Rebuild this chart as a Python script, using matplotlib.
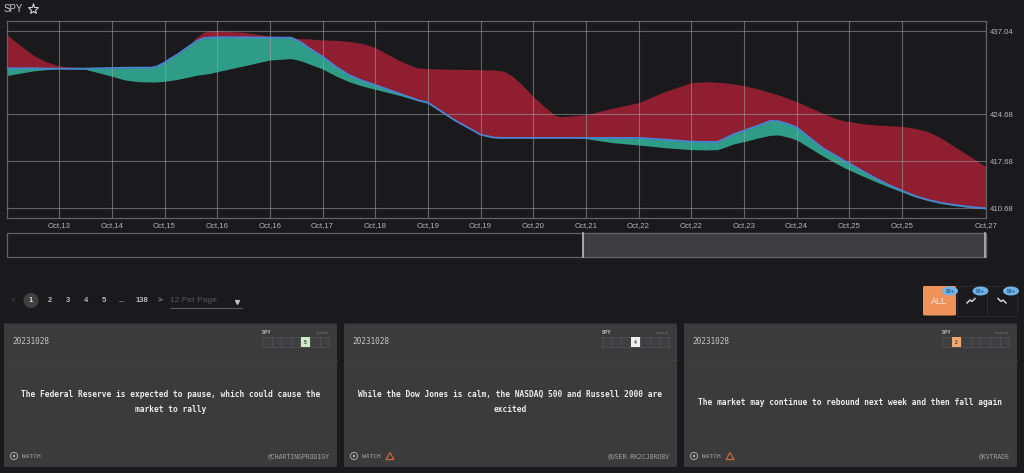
import matplotlib
matplotlib.use('Agg')
import matplotlib.pyplot as plt
from matplotlib.patches import Rectangle, FancyBboxPatch, Circle, Ellipse, Polygon

# tick units along the time axis
x_vals = [0, 0.25, 0.5, 0.75, 1, 1.5, 2, 2.25, 2.5, 2.75, 2.85, 3, 3.1, 3.25, 3.5, 3.6, 3.75, 3.875, 4, 4.5,
          5, 5.4, 5.5, 5.6, 5.75, 6, 6.25, 6.5, 6.75, 7, 7.5, 7.8, 8, 8.5, 9, 9.25, 9.45, 9.6, 9.79, 10,
          10.25, 10.4, 10.5, 10.67, 11, 11.5, 12, 12.5, 13, 13.3, 13.5, 13.65, 13.8, 14, 14.3, 14.5, 14.66, 14.85,
          15, 15.5, 15.7, 15.9, 16, 16.25, 16.5, 16.75, 17, 17.25, 17.5, 17.75, 18, 18.3, 18.59]
upper = [436.59, 435.00, 433.51, 432.52, 431.88, 431.48, 431.58, 431.61, 431.63, 431.63, 431.78, 432.47, 433.06, 433.76,
         435.15, 436.10, 436.94, 437.11, 437.14, 436.89, 436.35, 436.10, 435.99, 435.95, 435.90, 435.75, 435.70, 435.55,
         435.25, 434.61, 432.52, 431.58, 431.48, 431.38, 431.33, 431.28, 431.08, 430.39, 429.05, 427.31, 425.57, 424.58,
         424.33, 424.38, 424.63, 425.57, 426.42, 428.06, 429.40, 429.54, 429.44, 429.35, 429.20, 428.95, 428.40, 427.91,
         427.56, 427.01, 426.57, 424.83, 424.18, 423.69, 423.59, 423.29, 423.09, 422.99, 422.89, 422.59, 422.10, 421.11,
         419.86, 418.37, 416.89]
close = [431.53, 431.53, 431.53, 431.50, 431.48, 431.48, 431.58, 431.61, 431.63, 431.63, 431.78, 432.37, 432.92, 433.61,
         435.00, 435.55, 436.05, 436.12, 436.15, 436.15, 436.10, 436.10, 435.75, 435.35, 434.51, 433.27, 431.78, 430.54,
         429.69, 429.05, 427.66, 426.81, 426.42, 423.84, 421.65, 421.21, 421.16, 421.16, 421.16, 421.16, 421.16, 421.16,
         421.16, 421.16, 421.16, 421.16, 421.16, 420.91, 420.61, 420.56, 420.56, 421.11, 421.70, 422.25, 423.09, 423.69,
         423.64, 423.19, 422.74, 419.62, 418.72, 417.78, 417.38, 416.24, 415.15, 414.16, 413.31, 412.51, 411.92, 411.48,
         411.18, 410.88, 410.68]
lower = [430.44, 430.79, 431.13, 431.33, 431.43, 431.38, 430.34, 429.79, 429.54, 429.49, 429.50, 429.59, 429.70, 429.89,
         430.29, 430.49, 430.64, 430.79, 431.03, 431.88, 432.77, 432.97, 432.82, 432.62, 432.17, 431.43, 430.39, 429.54,
         428.90, 428.40, 427.41, 426.71, 426.32, 423.84, 421.65, 421.21, 421.16, 421.16, 421.16, 421.16, 421.16, 421.16,
         421.16, 421.16, 421.06, 420.46, 420.11, 419.71, 419.42, 419.37, 419.42, 419.81, 420.26, 420.61, 421.21, 421.55,
         421.60, 421.25, 420.86, 418.47, 417.58, 416.74, 416.39, 415.50, 414.65, 413.86, 413.11, 412.37, 411.82, 411.38,
         411.08, 410.78, 410.58]

tick_pos = list(range(1, 18)) + [18.59]
tick_labels = ['Oct,13', 'Oct,14', 'Oct,15', 'Oct,16', 'Oct,16', 'Oct,17', 'Oct,18', 'Oct,19', 'Oct,19',
               'Oct,20', 'Oct,21', 'Oct,22', 'Oct,22', 'Oct,23', 'Oct,24', 'Oct,25', 'Oct,25', 'Oct,27']
y_ticks = [410.68, 417.68, 424.68, 437.04]

card_dates = ['20231028', '20231028', '20231028']
card_texts = ['The Federal Reserve is expected to pause, which could cause the\nmarket to rally',
              'While the Dow Jones is calm, the NASDAQ 500 and Russell 2000 are\nexcited',
              'The market may continue to rebound next week and then fall again']
card_users = ['@CHARTINGPRODIGY', '@USER-RK2CJ8RO8V', '@KVTRADE']
card_moods = ['bullish', 'neutral', 'bearish']
card_scores = [5, 4, 2]
page_labels = ['2', '3', '4', '5', '...', '138']

BG = '#1a1a1c'
GRID = '#626266'
sans = ['Liberation Sans', 'DejaVu Sans']
mono = 'DejaVu Sans Mono'

fig = plt.figure(figsize=(10.24, 4.73), dpi=100, facecolor=BG)

# whole figure in pixel coords for the page parts around the chart
ui = fig.add_axes([0, 0, 1, 1], zorder=0)
ui.set_xlim(0, 1024)
ui.set_ylim(473, 0)
ui.axis('off')

ui.text(4, 8.5, 'SPY', color='#c8c8c8', fontsize=7, family=sans, va='center')
ui.plot([33], [9], marker='*', ms=8, mfc='none', mec='#d0d0d0', mew=0.8)

# range slider
ui.add_patch(Rectangle((6.5, 232.5), 979, 24, fc='none', ec=GRID, lw=0.9))
ui.add_patch(Rectangle((583, 232.5), 402.5, 24, fc='#3e3d42', ec=GRID, lw=0.9))
ui.plot([583, 583], [233, 257], color='#b8b8b8', lw=1.2)
ui.plot([985, 985], [233, 257], color='#b8b8b8', lw=1.2)

# pagination
ui.text(13, 300.5, '<', color='#555555', fontsize=6, family=sans, ha='center', va='center')
ui.add_patch(Circle((31, 300.5), 7.5, fc='#404040', ec='none'))
ui.text(31, 300.5, '1', color='#d8d8d8', fontsize=5.5, family=sans, ha='center', va='center', weight='bold')
for px, lab in zip([49.5, 67.5, 85.5, 104, 122, 141.5], page_labels):
    ui.text(px, 300.5, lab, color='#b8b8b8', fontsize=5.5, family=sans, ha='center', va='center', weight='bold')
ui.text(160, 300.5, '>', color='#b8b8b8', fontsize=6, family=sans, ha='center', va='center')
ui.text(170, 300.5, '12 Per Page', color='#5a5a5a', fontsize=6, family=sans, va='center')
ui.plot([170, 242], [307.5, 307.5], color='#5a5a5a', lw=0.8)
ui.plot([236.5], [301.5], marker='v', ms=2.8, color='#c0c0c0')

# filter buttons
ui.add_patch(FancyBboxPatch((923, 286), 33, 29.5, boxstyle='round,pad=0,rounding_size=1.5', fc='#f0935a', ec='none'))
ui.text(939, 301, 'ALL', color='#f5f0e8', fontsize=6.5, family=sans, ha='center', va='center')
ui.add_patch(Rectangle((957, 286), 30, 29.5, fc='none', ec='#2a2a2c', lw=0.8))
ui.add_patch(Rectangle((987, 286), 30, 29.5, fc='none', ec='#2a2a2c', lw=0.8))
ui.plot([967, 970, 972, 975], [303, 300, 301.5, 298.5], color='#e0e0e0', lw=1)
ui.plot([998, 1001, 1003, 1006], [298.5, 301.5, 300, 303], color='#e0e0e0', lw=1)
for px in [950, 980.5, 1011]:
    ui.add_patch(Ellipse((px, 291), 16, 9, fc='#6db3e8', ec='none'))
    ui.text(px, 291, '99+', color='#2f5f88', fontsize=3.8, family=sans, ha='center', va='center', weight='bold')

# the three comment cards
card_left = [4, 344, 684]
badge_left = [262, 602, 942]
score_cols = ['#cfe8c8', '#f0f0f0', '#f0a870']
for i in range(3):
    x0 = card_left[i]
    mid = x0 + 166.5
    ui.add_patch(FancyBboxPatch((x0, 323.5), 333, 143.5, boxstyle='round,pad=0,rounding_size=1.5', fc='#3b3b3c', ec='none'))
    ui.plot([x0, x0 + 333], [359.5, 359.5], color='#414142', lw=0.7)
    ui.text(x0 + 8, 341, card_dates[i], color='#c8c8c8', fontsize=5.6, family=mono, va='center')
    ui.text(mid, 402, card_texts[i], color='#ececec', fontsize=5.7, family=mono, weight='bold',
            ha='center', va='center', linespacing=1.75)
    # score strip
    bx = badge_left[i]
    ui.text(bx, 332.5, 'SPY', color='#c8c8c8', fontsize=3.4, family=sans, weight='bold', va='center')
    ui.text(bx + 67, 332.5, card_moods[i], color='#707070', fontsize=3.2, family=sans, ha='right', va='center')
    for c in range(7):
        ui.add_patch(Rectangle((bx + c * 9.6, 337), 9.6, 10, fc='#3f3f41', ec='#505052', lw=0.6))
    hit = card_scores[i] - 1
    ui.add_patch(Rectangle((bx + hit * 9.6 + 0.5, 337), 8.6, 10, fc=score_cols[i], ec='none'))
    ui.text(bx + hit * 9.6 + 4.8, 342, str(card_scores[i]), color='#444444', fontsize=3.6, family=sans,
            weight='bold', ha='center', va='center')
    # footer
    ui.add_patch(Circle((x0 + 10, 456), 3.6, fc='none', ec='#a8a8a8', lw=0.7))
    ui.add_patch(Circle((x0 + 10, 456), 1.3, fc='#a8a8a8', ec='none'))
    ui.text(x0 + 18, 456, 'WATCH', color='#a8a8a8', fontsize=4.5, family=mono, va='center')
    if i > 0:
        ui.add_patch(Polygon([[x0 + 42, 459.5], [x0 + 50, 459.5], [x0 + 46, 452.5]], closed=True,
                             fc='none', ec='#c8683a', lw=0.9))
    ui.text(x0 + 326, 456, card_users[i], color='#a0a0a0', fontsize=4.7, family=mono, ha='right', va='center')

# main chart
ax = fig.add_axes([6.5 / 1024, 1 - 218.3 / 473, 979.2 / 1024, 197 / 473], facecolor=BG, zorder=1)
ax.fill_between(x_vals, close, upper, color='#8f1f30', lw=0, zorder=1)
ax.fill_between(x_vals, lower, close, color='#2f9c88', lw=0, zorder=2)
ax.plot(x_vals, close, color='#4a84d0', lw=1.3, zorder=3)
ax.set_xlim(0, 18.59)
ax.set_ylim(409.19, 438.53)
ax.set_xticks(tick_pos)
ax.set_xticklabels(tick_labels, family=sans, fontsize=5.6, color='#b4b4b4')
ax.yaxis.tick_right()
ax.set_yticks(y_ticks)
ax.set_yticklabels(['%.2f' % v for v in y_ticks], family=sans, fontsize=5.6, color='#b4b4b4')
ax.tick_params(length=0, pad=3)
ax.grid(True, color='#a0a0a4', alpha=0.55, lw=0.8, zorder=4)
ax.set_axisbelow(False)
for s in ax.spines.values():
    s.set_color(GRID)
    s.set_linewidth(0.9)

fig.savefig('out.png', dpi=100, facecolor=BG)
